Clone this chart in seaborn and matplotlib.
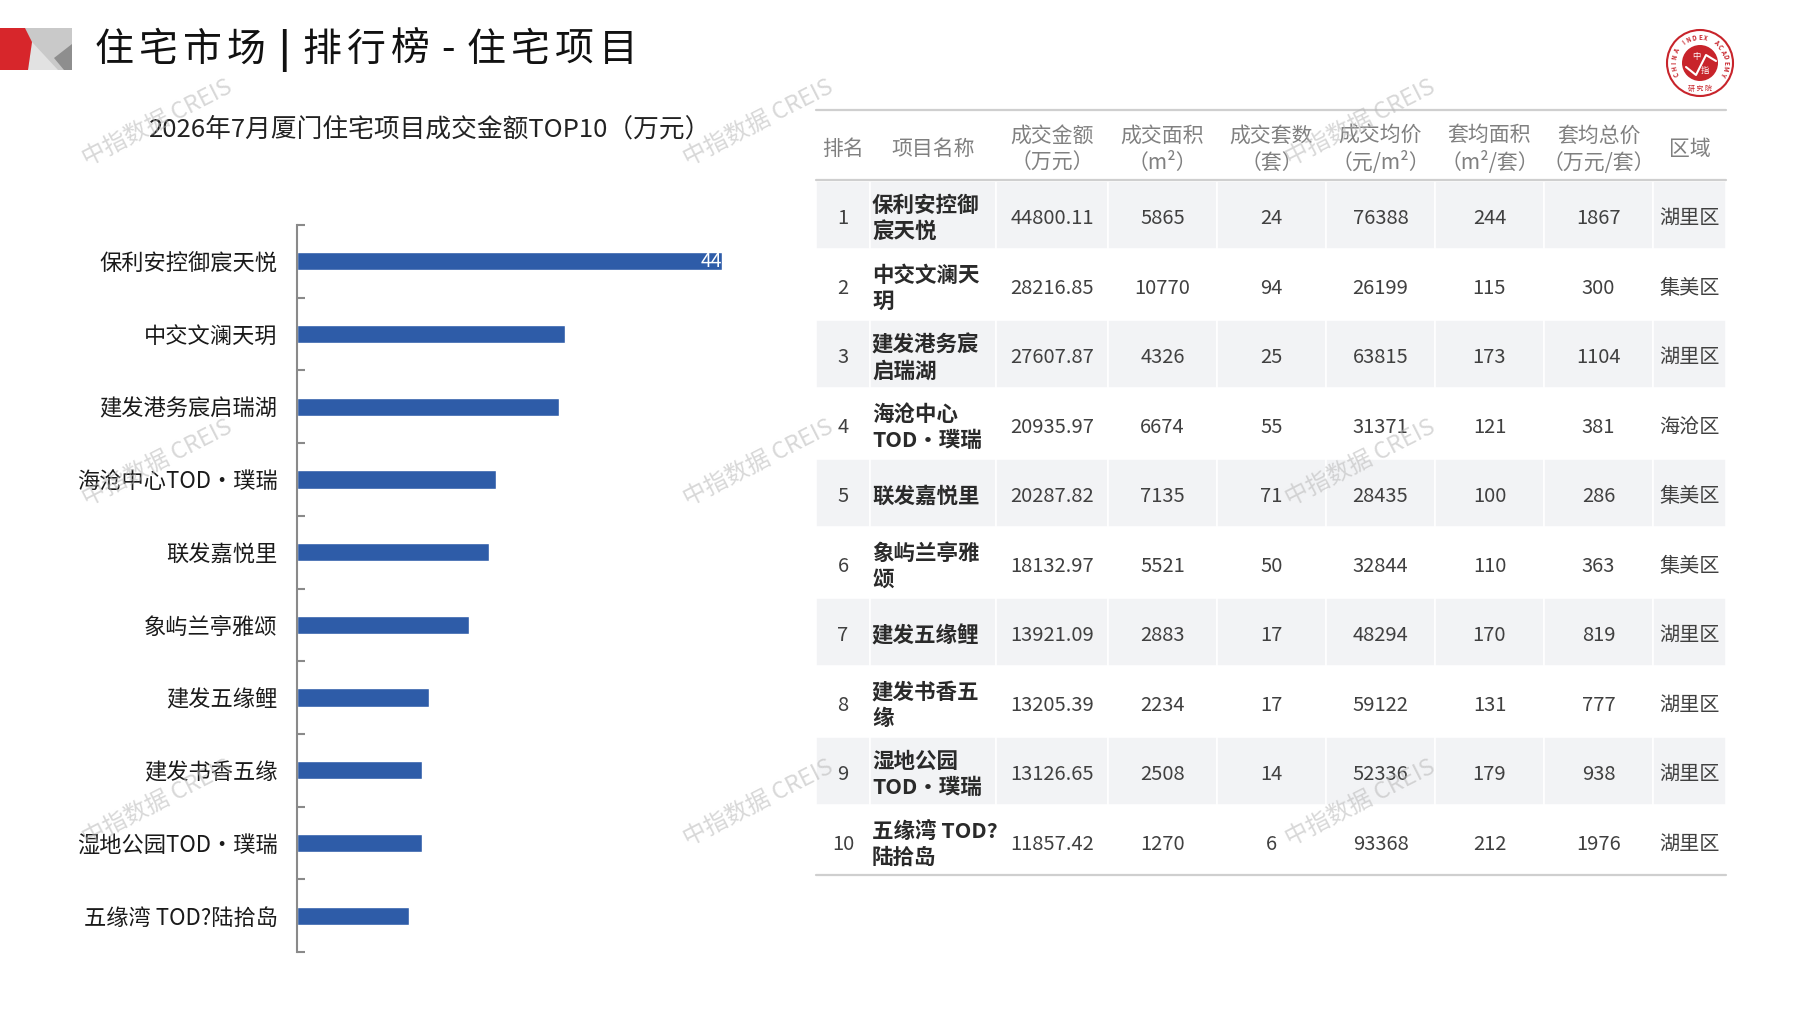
import numpy as np
import pandas as pd
import seaborn as sns
import matplotlib
matplotlib.use("Agg")
import matplotlib.pyplot as plt
from matplotlib.patches import Polygon, Circle, Rectangle
from matplotlib.transforms import offset_copy

# ---- data ----
ranks = [1, 2, 3, 4, 5, 6, 7, 8, 9, 10]
projects = ["保利安控御宸天悦", "中交文澜天玥", "建发港务宸启瑞湖", "海沧中心TOD•璞瑞",
            "联发嘉悦里", "象屿兰亭雅颂", "建发五缘鲤", "建发书香五缘",
            "湿地公园TOD•璞瑞", "五缘湾 TOD?陆拾岛"]
table_names = ["保利安控御\n宸天悦", "中交文澜天\n玥", "建发港务宸\n启瑞湖", "海沧中心\nTOD•璞瑞",
               "联发嘉悦里", "象屿兰亭雅\n颂", "建发五缘鲤", "建发书香五\n缘",
               "湿地公园\nTOD•璞瑞", "五缘湾 TOD?\n陆拾岛"]
amounts = [44800.11, 28216.85, 27607.87, 20935.97, 20287.82,
           18132.97, 13921.09, 13205.39, 13126.65, 11857.42]
areas = [5865, 10770, 4326, 6674, 7135, 5521, 2883, 2234, 2508, 1270]
units = [24, 94, 25, 55, 71, 50, 17, 17, 14, 6]
avg_price = [76388, 26199, 63815, 31371, 28435, 32844, 48294, 59122, 52336, 93368]
avg_area = [244, 115, 173, 121, 100, 110, 170, 131, 179, 212]
avg_total = [1867, 300, 1104, 381, 286, 363, 819, 777, 938, 1976]
districts = ["湖里区", "集美区", "湖里区", "海沧区", "集美区",
             "集美区", "湖里区", "湖里区", "湖里区", "湖里区"]
headers = ["排名", "项目名称", "成交金额\n（万元）", "成交面积\n（m²）", "成交套数\n（套）",
           "成交均价\n（元/m²）", "套均面积\n（m²/套）", "套均总价\n（万元/套）", "区域"]

title = "住宅市场|排行榜-住宅项目"
subtitle = "2026年7月厦门住宅项目成交金额TOP10（万元）"

sns.set_theme(style="white")
plt.rcParams['font.family'] = ['Noto Sans CJK SC', 'DejaVu Sans']

W, H = 1797, 1010
fig = plt.figure(figsize=(W / 100, H / 100), dpi=100)
fig.patch.set_facecolor("white")


def px_axes(x0, y0, x1, y1, **kw):
    return fig.add_axes([x0 / W, 1 - y1 / H, (x1 - x0) / W, (y1 - y0) / H], **kw)


# page layer in pixel coordinates
page = px_axes(0, 0, W, H)
page.set_xlim(0, W)
page.set_ylim(H, 0)
page.axis("off")

# header icon
page.add_patch(Rectangle((20, 28), 52, 42, fc="#c9c9c9", ec="none"))
page.add_patch(Polygon([(32, 42), (58, 70), (28, 70)], fc="#e2e2e2", ec="none"))
page.add_patch(Polygon([(54, 58), (72, 44), (72, 70), (64, 70)], fc="#8e8e8e", ec="none"))
page.add_patch(Polygon([(0, 28), (25, 28), (32, 42), (28, 70), (0, 70)], fc="#d7262b", ec="none"))

# title with the wide letter spacing of the original
x = 92
for ch in title:
    adv = 32 if ch in "|-" else 44
    page.text(x + adv / 2, 50, ch, fontsize=28, va="center", ha="center", color="#111111",
              fontweight="bold" if ch == "|" else "normal")
    x += adv
page.text(430, 130, subtitle, fontsize=18.5, va="center", ha="center", color="#222222")

# logo
cx, cy = 1700, 63
page.add_patch(Circle((cx, cy), 33, fc="white", ec="#c8242b", lw=1.5))
page.add_patch(Circle((cx, cy), 18, fc="#c8242b", ec="none"))
page.plot([cx - 14, cx - 4, cx + 6, cx + 16], [cy + 4, cy + 12, cy - 8, cy - 2], color="white", lw=1.5)
page.text(cx - 4, cy - 6, "中", fontsize=6, color="white", ha="center", va="center")
page.text(cx + 5, cy + 7, "指", fontsize=6, color="white", ha="center", va="center")
ring = "CHINA INDEX ACADEMY"
for k, ch in enumerate(ring):
    th = np.deg2rad(205 - k * (230 / (len(ring) - 1)))
    page.text(cx + 26 * np.cos(th), cy - 26 * np.sin(th), ch, fontsize=4.5, color="#c8242b",
              ha="center", va="center", rotation=np.rad2deg(th) - 90, fontweight="bold")
page.text(cx, cy + 26, "研 究 院", fontsize=5, color="#c8242b", ha="center", va="center")

# ---- table ----
edges = [816, 870, 996, 1108, 1217, 1326, 1435, 1544, 1653, 1726]
row_top, row_h = 180, 69.5
line_c = "#cfcfcf"
for yy in [110, row_top, row_top + 10 * row_h]:
    page.plot([edges[0], edges[-1]], [yy, yy], color=line_c, lw=1.6)

for j, hd in enumerate(headers):
    xc = (edges[j] + edges[j + 1]) / 2
    page.text(xc, 149, hd, fontsize=15, color="#808080", ha="center", va="center", linespacing=1.3)

for i in range(10):
    y0 = row_top + i * row_h
    yc = y0 + row_h / 2 + 4
    if i % 2 == 0:
        for j in range(len(edges) - 1):
            page.add_patch(Rectangle((edges[j], y0 + 1), edges[j + 1] - edges[j], row_h - 2,
                                     fc="#f2f3f5", ec="white", lw=1.2))
    cells = [str(ranks[i]), None, f"{amounts[i]:.2f}", str(areas[i]), str(units[i]),
             str(avg_price[i]), str(avg_area[i]), str(avg_total[i]), districts[i]]
    for j, val in enumerate(cells):
        if j == 1:
            page.text(edges[1] + 2, yc, table_names[i], fontsize=15.5, color="#2a2a2a",
                      ha="left", va="center", linespacing=1.3, fontweight="bold")
        else:
            xc = (edges[j] + edges[j + 1]) / 2
            page.text(xc, yc, val, fontsize=14.5, color="#404040", ha="center", va="center")

# ---- bar chart ----
df = pd.DataFrame({"项目": projects, "金额": amounts})
bar_c = "#2e5ca8"
ax = px_axes(297, 225, 722, 952)
ax.patch.set_alpha(0)
sns.barplot(data=df, x="金额", y="项目", orient="h", color=bar_c, saturation=1,
            width=0.25, ax=ax)
ax.set_xlim(0, amounts[0])
ax.set_ylim(9.5, -0.5)
ax.set_xlabel("")
ax.set_ylabel("")
ax.set_xticks([])
for s in ["top", "right", "bottom"]:
    ax.spines[s].set_visible(False)
ax.spines["left"].set_color("#8a8a8a")
ax.spines["left"].set_linewidth(1.5)
ax.set_yticks(np.arange(-0.5, 10, 1), minor=True)
ax.tick_params(axis="y", which="minor", direction="in", length=6, width=1.5, color="#8a8a8a", left=True)
ax.tick_params(axis="y", which="major", length=0, pad=14, labelsize=16, labelcolor="#1a1a1a")

lbl = ax.text(amounts[0], 0, f"{amounts[0]:.2f}", color="white", fontsize=14, ha="left", va="center",
              transform=offset_copy(ax.transData, fig=fig, x=-21, y=0, units="dots"), clip_on=True)
lbl.set_clip_box(ax.bbox)

# ---- watermarks ----
for wy in [123, 463, 803]:
    for wx in [157, 758, 1360]:
        fig.text(wx / W, 1 - wy / H, "中指数据 CREIS", fontsize=17, color="#b8b8b8", alpha=0.55,
                 rotation=27, ha="center", va="center", zorder=20)

fig.savefig("out.png", dpi=100, facecolor="white")
